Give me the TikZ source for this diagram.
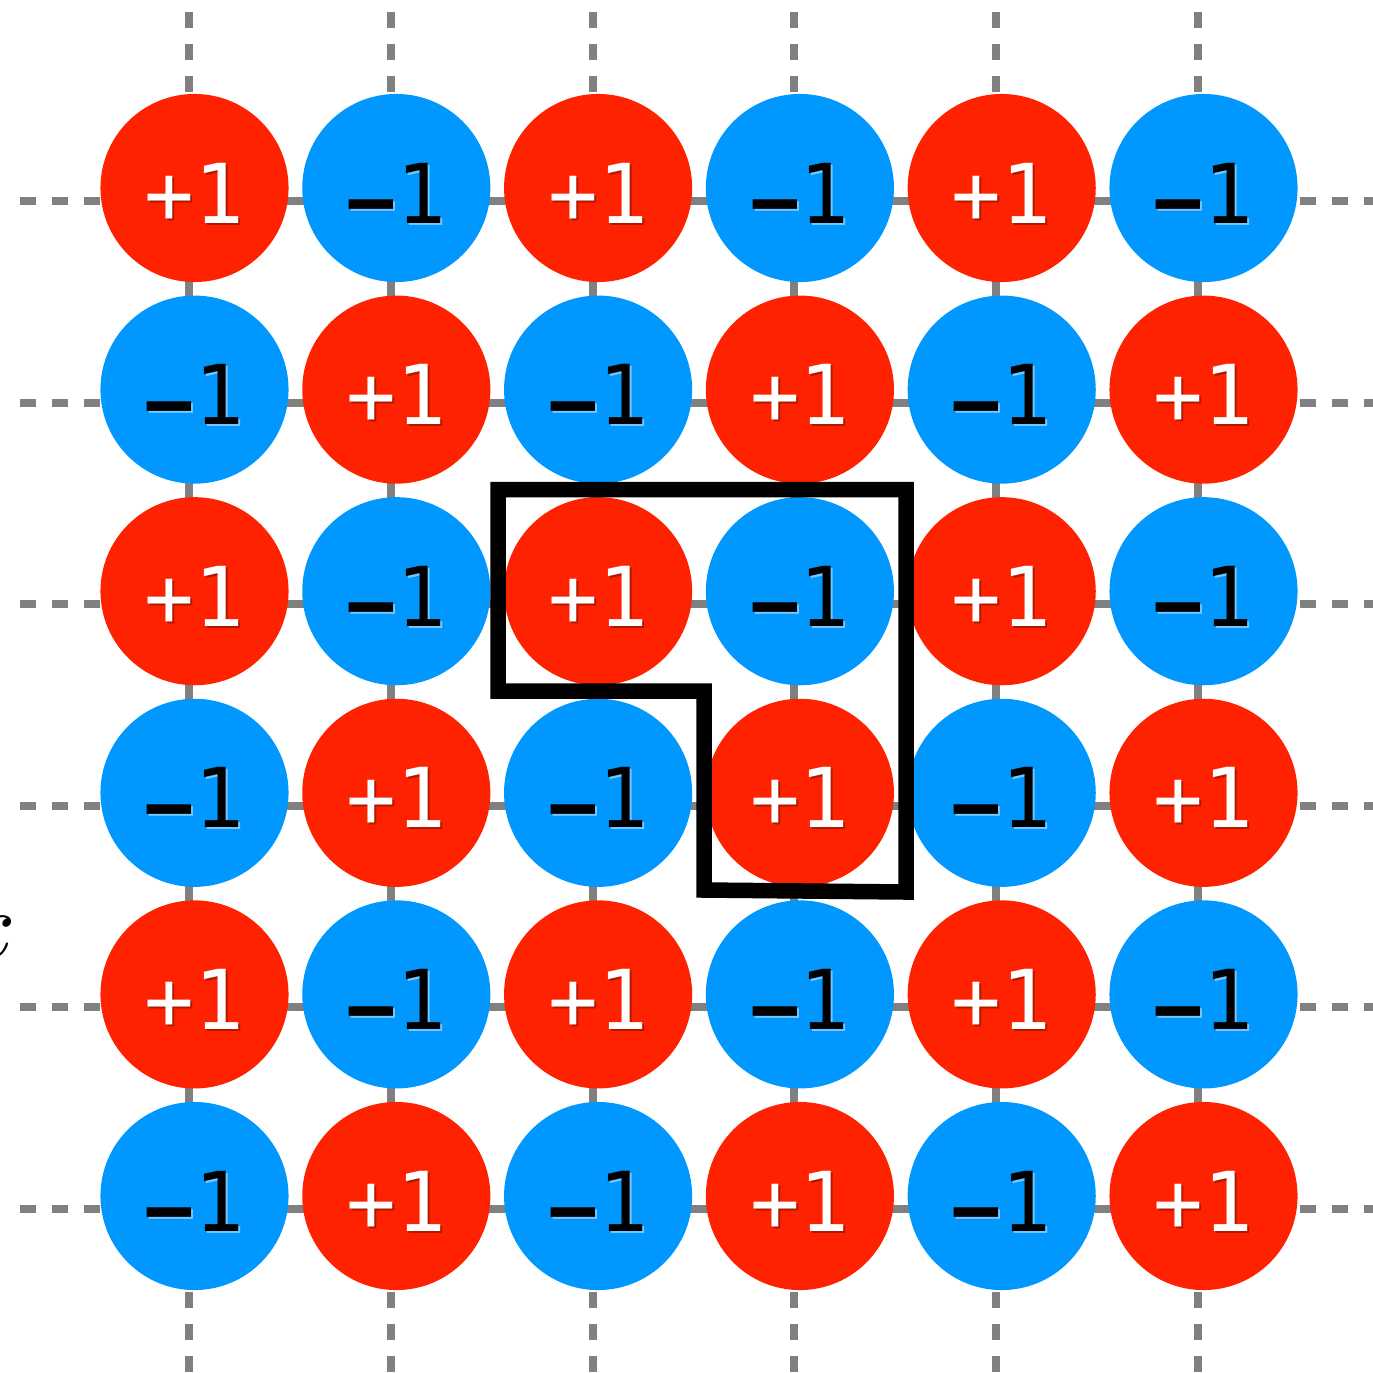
\documentclass[tikz,border=0pt]{standalone}
\usepackage{graphicx}
\usepackage{fontspec}
\setmonofont{DejaVu Sans Mono}
\usepackage{xcolor}
\usepackage{tikz}
\definecolor{spinred}{RGB}{255,34,0}
\definecolor{spinblue}{RGB}{0,152,255}
\definecolor{gridgray}{RGB}{128,128,128}
\newcommand\spintext[2]{\raisebox{-0.05cm}[\height][0pt]{%
  \rlap{\kern0.02cm\raisebox{-0.02cm}{\textcolor{#1}{#2}}}#2}}
\newcommand\spinminus{\raisebox{-0.075cm}{\bfseries −}}

\begin{document}
\begin{tikzpicture}[
  x=0.01cm, y=-0.01cm,
  spin/.style={circle, minimum size=1.88cm, inner sep=0pt,
               font=\ttfamily\fontsize{23.5}{24}\selectfont},
  upspin/.style={spin, fill=spinred, text=white},
  downspin/.style={spin, fill=spinblue, text=black},
  gridline/.style={line width=0.08cm, gridgray},
  gridends/.style={gridline, dash pattern=on 0.16cm off 0.16cm},
  loopline/.style={line width=0.155cm, black, line join=miter}
]
\useasboundingbox (0,0) rectangle (1373,1372);

% grid points and free ends
\foreach \i in {0,...,5} {
  \coordinate (top-\i) at ({189+201.8*\i},12);
  \coordinate (bot-\i) at ({189+201.8*\i},1292);
  \coordinate (left-\i) at (20,{201+201.6*\i});
  \coordinate (right-\i) at (1300,{201+201.6*\i});
  \coordinate (vtop-\i) at ({189+201.8*\i},201);
  \coordinate (vbot-\i) at ({189+201.8*\i},1209);
  \coordinate (hleft-\i) at (189,{201+201.6*\i});
  \coordinate (hright-\i) at (1198,{201+201.6*\i});
}

% lattice lines
\foreach \i in {0,...,5} {
  \draw[gridline] (vtop-\i) -- (vbot-\i);
  \draw[gridline] (hleft-\i) -- (hright-\i);
  \draw[gridends] (top-\i) -- ++(0,80);
  \draw[gridends] (bot-\i) -- ++(0,90);
  \draw[gridends] (left-\i) -- ++(80,0);
  \draw[gridends] (right-\i) -- ++(90,0);
}

% spins
\foreach \i in {0,...,5} {
  \foreach \j in {0,...,5} {
    \pgfmathtruncatemacro\spinodd{mod(\i+\j,2)}
    \ifnum\spinodd=0
      \node[upspin] (s-\i-\j) at ({194.5+201.8*\i},{188+201.6*\j})
        {\spintext{spinred!70!black}{+1}};
    \else
      \node[downspin] (s-\i-\j) at ({194.5+201.8*\i},{188+201.6*\j})
        {\spintext{spinblue!55!white}{\spinminus1}};
    \fi
  }
}

% loop
\draw[loopline] (498,489.5) -- (906,489.5) -- (906,892) -- (704,890)
  -- (704,691) -- (498,691) -- cycle;

\node[anchor=base east, inner sep=0pt]
  (xlabel) at (16,957) {\scalebox{2.7}{$x$}};
\end{tikzpicture}
\end{document}
